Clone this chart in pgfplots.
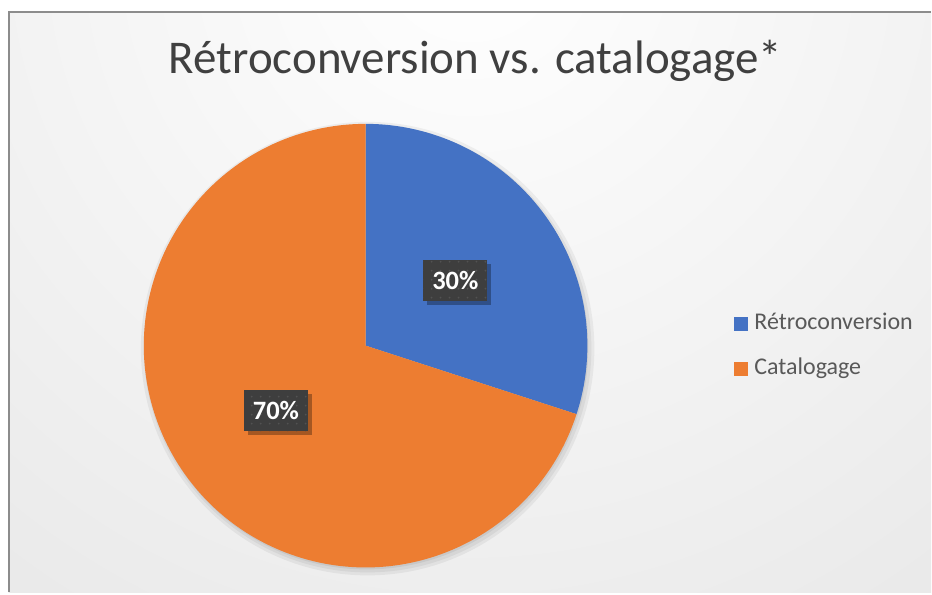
\documentclass[border=0pt]{standalone}
\usepackage{fontspec}
\setmainfont{Carlito}
\usepackage{pgfplots}
\pgfplotsset{compat=1.18}
\usepackage{pgfplotstable}
\usetikzlibrary{shadows,patterns.meta}

\definecolor{blueslice}{HTML}{4472C4}
\definecolor{orangeslice}{HTML}{ED7D31}
\definecolor{bggray}{HTML}{D9D9D9}
\definecolor{framegray}{HTML}{8C8C8C}
\definecolor{labelbg}{HTML}{3E3E3E}
\definecolor{labeldot}{HTML}{525252}
\definecolor{txtgray}{HTML}{595959}
\definecolor{titlegray}{HTML}{404040}

\pgfplotstableread[col sep=comma]{
label,value,color
Rétroconversion,30,blueslice
Catalogage,70,orangeslice
}\piedata

\begin{document}
\begin{tikzpicture}
\begin{axis}[scale only axis, width=932pt, height=593pt,
  xmin=0, xmax=932, ymin=0, ymax=593, hide axis, clip=false]
% background
\fill[white] (axis cs:0,0) rectangle (axis cs:932,593);
\begin{scope}
\clip (axis cs:9,0) rectangle (axis cs:932,581);
\shade[inner color=white, outer color=bggray] (axis cs:470,643) circle[radius=1400pt];
\end{scope}
\draw[framegray, line width=2pt] (axis cs:9,0) -- (axis cs:9,581) -- (axis cs:932,581);
% title
\node[anchor=base, text=titlegray, font=\fontsize{47}{56}\selectfont] at (axis cs:476,519) {Rétroconversion vs. catalogage*};
% pie soft shadow
\fill[black, opacity=0.05] (axis cs:368,244) circle[radius=227pt];
\fill[black, opacity=0.05] (axis cs:368,244) circle[radius=224pt];
\fill[black, opacity=0.06] (axis cs:367,245) circle[radius=222pt];
% slices
\pgfplotstablegetrowsof{\piedata}
\pgfmathtruncatemacro\lastrow{\pgfplotsretval-1}
\def\cum{90}
\pgfplotsforeachungrouped \i in {0,...,\lastrow}{%
  \pgfplotstablegetelem{\i}{value}\of\piedata \let\v\pgfplotsretval
  \pgfplotstablegetelem{\i}{color}\of\piedata \let\c\pgfplotsretval
  \pgfplotstablegetelem{\i}{label}\of\piedata \let\l\pgfplotsretval
  \pgfmathsetmacro\a{\cum}%
  \pgfmathsetmacro\b{\cum-3.6*\v}%
  \pgfmathsetmacro\gy{269-45*\i}%
  \pgfmathsetmacro\ty{263-45*\i}%
  \edef\temp{%
    \noexpand\fill[\c] (axis cs:366,247) -- ++(\a:222pt) arc[start angle=\a, end angle=\b, radius=222pt] -- cycle;
    \noexpand\fill[\c] (axis cs:735,\gy) ++(0pt,-7pt) rectangle ++(14pt,14pt);
    \noexpand\node[anchor=base west, text=txtgray, font=\noexpand\fontsize{24}{28}\noexpand\selectfont, inner sep=0pt] at (axis cs:755,\ty) {\l};
  }\temp
  \let\cum\b
}
% data labels (drawn after all slices)
\def\cum{90}
\pgfplotsforeachungrouped \i in {0,...,\lastrow}{%
  \pgfplotstablegetelem{\i}{value}\of\piedata \let\v\pgfplotsretval
  \pgfmathsetmacro\a{\cum}%
  \pgfmathsetmacro\b{\cum-3.6*\v}%
  \pgfmathsetmacro\m{(\a+\b)/2}%
  \pgfmathsetmacro\lx{366+111*cos(\m)}%
  \pgfmathsetmacro\ly{247+111*sin(\m)}%
  \pgfmathtruncatemacro\vv{\v}%
  \edef\temp{%
    \noexpand\node[fill=labelbg, minimum width=64pt, minimum height=41pt, inner sep=0pt,
      drop shadow={shadow xshift=4pt, shadow yshift=-4pt, opacity=0.3, fill=black},
      postaction={pattern={Dots[distance=9pt, radius=1pt]}, pattern color=labeldot},
      text=white, font=\noexpand\fontsize{26.5}{30}\noexpand\selectfont\noexpand\bfseries]
      at (axis cs:\lx,\ly) {\vv\noexpand\%};
  }\temp
  \let\cum\b
}
\end{axis}
\end{tikzpicture}
\end{document}
